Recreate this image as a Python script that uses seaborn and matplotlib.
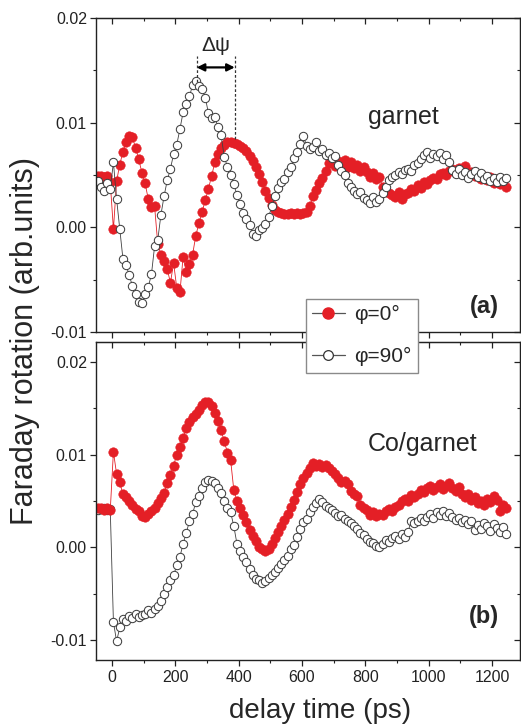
import numpy as np
import pandas as pd
import matplotlib
matplotlib.use("Agg")
import matplotlib.pyplot as plt
import seaborn as sns
from matplotlib.lines import Line2D
from matplotlib.ticker import MultipleLocator, FormatStrFormatter

# ---------------- data (values in units of 1e-3 arb. units) ----------------
delay_ps = [-45, -35, -25, -15, -5, 5, 15, 25, 35, 45,
            55, 65, 75, 85, 95, 105, 115, 125, 135, 145,
            155, 165, 175, 185, 195, 205, 215, 225, 235, 245,
            255, 265, 275, 285, 295, 305, 315, 325, 335, 345,
            355, 365, 375, 385, 395, 405, 415, 425, 435, 445,
            455, 465, 475, 485, 495, 505, 515, 525, 535, 545,
            555, 565, 575, 585, 595, 605, 615, 625, 635, 645,
            655, 665, 675, 685, 695, 705, 715, 725, 735, 745,
            755, 765, 775, 785, 795, 805, 815, 825, 835, 845,
            855, 865, 875, 885, 895, 905, 915, 925, 935, 945,
            955, 965, 975, 985, 995, 1005, 1015, 1025, 1035, 1045,
            1055, 1065, 1075, 1085, 1095, 1105, 1115, 1125, 1135, 1145,
            1155, 1165, 1175, 1185, 1195, 1205, 1215, 1225, 1235, 1245]

garnet_phi0 = [4.9, 4.9, 4.8, 4.9, 4.3, -0.2, 4.4, 6.0, 7.2, 8.2,
               8.7, 8.6, 7.6, 6.5, 5.2, 4.2, 2.7, 1.9, 2.0, -1.6,
               -2.6, -3.2, -4.0, -5.3, -3.4, -5.8, -6.2, -2.8, -4.3, -3.5,
               -2.6, -0.8, 0.4, 1.5, 2.6, 3.7, 4.9, 6.2, 7.0, 7.6,
               7.9, 8.2, 8.2, 8.1, 8.0, 7.8, 7.6, 7.3, 6.8, 6.3,
               5.8, 5.1, 4.3, 3.5, 2.8, 2.1, 1.7, 1.5, 1.4, 1.3,
               1.3, 1.4, 1.3, 1.4, 1.3, 1.4, 1.5, 2.0, 3.0, 3.6,
               4.2, 4.7, 5.4, 6.1, 6.4, 5.9, 6.3, 6.1, 6.4, 5.8,
               6.2, 5.7, 6.0, 5.4, 5.8, 5.3, 4.8, 5.2, 4.6, 4.8,
               3.9, 3.5, 3.3, 3.1, 2.9, 3.4, 2.7, 3.2, 3.3, 3.7,
               3.5, 4.0, 3.8, 4.3, 4.1, 4.5, 4.7, 4.6, 5.1, 5.2,
               5.0, 5.4, 5.6, 5.2, 5.7, 5.3, 5.9, 5.0, 5.3, 4.9,
               5.1, 4.6, 4.9, 4.5, 4.8, 4.2, 4.6, 4.1, 4.4, 3.9]

garnet_phi90 = [4.4, 3.9, 3.5, 4.2, 3.7, 6.2, 2.7, -0.2, -3.0, -3.6,
                -4.6, -5.6, -6.4, -7.1, -7.2, -6.4, -5.7, -4.5, -1.8, -1.2,
                1.2, 3.0, 4.5, 5.6, 7.0, 7.9, 9.4, 11.0, 11.8, 12.5,
                13.6, 14.0, 13.5, 13.2, 12.4, 10.9, 10.4, 10.5, 9.6, 8.8,
                6.7, 5.8, 5.0, 4.1, 3.1, 2.2, 1.4, 0.8, 0.2, -0.6,
                -0.8, -0.3, -0.1, 0.3, 1.0, 2.0, 3.0, 3.8, 4.3, 4.6,
                5.3, 5.8, 6.6, 7.2, 8.0, 8.7, 7.8, 7.5, 7.7, 8.2,
                7.3, 7.5, 6.9, 7.1, 6.6, 6.8, 6.0, 5.4, 5.0, 4.2,
                3.9, 3.5, 3.2, 3.4, 2.8, 2.6, 2.3, 2.9, 2.4, 2.7,
                3.3, 3.9, 4.5, 4.8, 5.0, 5.3, 5.1, 5.5, 5.6, 5.4,
                6.0, 6.1, 6.5, 6.9, 7.2, 6.6, 7.0, 6.8, 7.1, 6.5,
                6.9, 6.2, 5.5, 5.1, 5.6, 5.0, 5.3, 4.7, 5.1, 5.4,
                4.8, 5.2, 4.6, 4.9, 4.4, 4.7, 4.3, 4.8, 4.4, 4.7]

co_phi0 = [4.2, 4.3, 4.0, 4.2, 4.0, 10.3, 7.9, 7.0, 5.7, 5.4,
           5.0, 4.6, 4.1, 3.9, 3.4, 3.3, 3.6, 3.9, 4.3, 4.8,
           5.3, 5.9, 6.9, 7.8, 8.8, 10.0, 10.8, 11.8, 12.8, 13.5,
           14.0, 14.4, 14.8, 15.3, 15.7, 15.6, 15.2, 14.5, 13.6, 12.6,
           11.4, 10.2, 9.4, 6.2, 5.0, 4.3, 3.5, 2.7, 1.9, 1.2,
           0.7, 0.1, -0.2, -0.4, -0.2, 0.4, 1.0, 1.7, 2.3, 3.0,
           3.6, 4.4, 5.1, 6.0, 6.8, 7.5, 8.0, 8.6, 9.1, 8.8,
           9.0, 8.7, 8.9, 8.6, 8.2, 7.9, 7.5, 7.0, 7.2, 6.8,
           6.1, 5.8, 5.5, 4.6, 4.3, 4.0, 3.5, 3.8, 3.4, 3.6,
           3.5, 3.9, 4.1, 3.9, 4.4, 4.6, 5.0, 5.2, 5.0, 5.6,
           5.4, 5.8, 6.2, 6.0, 6.4, 6.6, 6.2, 6.5, 6.8, 6.3,
           6.6, 6.9, 6.4, 6.1, 6.5, 5.8, 5.4, 5.7, 5.1, 5.4,
           4.8, 5.0, 4.6, 5.2, 4.9, 5.5, 5.1, 3.9, 4.6, 4.2]

co_phi90 = [4.0, 4.1, 4.2, 4.0, 4.1, -8.0, -10.1, -8.6, -7.7, -7.9,
            -7.4, -7.6, -7.2, -7.5, -7.3, -7.1, -6.7, -7.0, -6.6, -6.3,
            -5.8, -5.0, -4.3, -3.5, -3.0, -1.9, -1.0, 0.4, 1.6, 2.8,
            3.6, 4.9, 5.5, 6.4, 7.0, 7.3, 7.2, 6.9, 6.4, 5.9,
            5.0, 4.2, 3.8, 2.3, 0.4, -0.4, -1.0, -1.6, -2.3, -3.0,
            -3.4, -3.5, -3.8, -3.6, -3.3, -3.0, -2.6, -2.2, -1.8, -1.3,
            -0.9, -0.2, 0.3, 1.1, 2.0, 2.7, 3.1, 3.8, 4.4, 4.8,
            5.2, 4.9, 4.5, 4.3, 4.0, 3.7, 3.4, 3.5, 3.1, 2.9,
            2.6, 2.3, 2.0, 1.6, 1.3, 0.9, 0.6, 0.5, 0.2, 0.1,
            0.4, 0.8, 0.6, 1.0, 1.2, 0.9, 1.4, 1.1, 1.7, 2.8,
            2.6, 2.9, 3.2, 2.8, 3.3, 3.6, 3.2, 3.8, 3.5, 3.9,
            3.4, 3.7, 3.3, 3.0, 3.2, 2.7, 3.0, 2.5, 2.8, 1.9,
            2.4, 2.0, 2.6, 2.3, 1.8, 2.5, 2.1, 1.7, 2.2, 1.5]

series_labels = ["\u03c6=0\u00b0", "\u03c6=90\u00b0"]
panel_names = ["garnet", "Co/garnet"]
panel_tags = ["(a)", "(b)"]
x_ticks = [0, 200, 400, 600, 800, 1000, 1200]
y_ticks = [-0.01, 0.00, 0.01, 0.02]

# ---------------- style ----------------
sns.set_style("ticks")
plt.rcParams["font.family"] = ["Liberation Sans", "DejaVu Sans"]
plt.rcParams["axes.unicode_minus"] = False

RED = "#e41f26"
DARK = "#404040"
SCALE = 1e-3

fig = plt.figure(figsize=(5.21, 7.27), dpi=100)
L, R = 96 / 521, 519.5 / 521
ax_a = fig.add_axes([L, 1 - 332 / 727, R - L, (332 - 18) / 727])
ax_b = fig.add_axes([L, 1 - 660 / 727, R - L, (660 - 342) / 727])


def df_of(vals):
    return pd.DataFrame({"t": delay_ps, "v": np.asarray(vals) * SCALE})


def draw(ax, red_vals, blk_vals, black_on_top):
    red_kw = dict(color=RED, lw=0.6, marker="o", markersize=6.8,
                  markerfacecolor=RED, markeredgecolor=RED, markeredgewidth=0.4)
    blk_kw = dict(color=DARK, lw=0.6, marker="o", markersize=6.0,
                  markerfacecolor="white", markeredgecolor=DARK, markeredgewidth=0.75)
    order = [(red_vals, red_kw), (blk_vals, blk_kw)]
    if not black_on_top:
        order = order[::-1]
    for vals, kw in order:
        sns.lineplot(data=df_of(vals), x="t", y="v", ax=ax, sort=False,
                     estimator=None, legend=False, **kw)


draw(ax_a, garnet_phi0, garnet_phi90, black_on_top=True)
draw(ax_b, co_phi0, co_phi90, black_on_top=False)

ax_a.set_ylim(-0.01, 0.02)
ax_b.set_ylim(-0.0121, 0.0221)

for ax in (ax_a, ax_b):
    ax.set_xlim(-50, 1287)
    ax.set_xlabel("")
    ax.set_ylabel("")
    ax.set_xticks(x_ticks)
    ax.xaxis.set_minor_locator(MultipleLocator(100))
    ax.set_yticks(y_ticks)
    ax.yaxis.set_minor_locator(MultipleLocator(0.005))
    ax.yaxis.set_major_formatter(FormatStrFormatter("%.2f"))
    for s in ax.spines.values():
        s.set_linewidth(1.0)
        s.set_color("#222222")
        s.set_visible(True)
    ax.tick_params(axis="both", which="major", direction="out", length=4.5,
                   width=0.9, labelsize=11.5, colors="#222222", pad=2)
    ax.tick_params(axis="both", which="minor", direction="out", length=2.5,
                   width=0.8, colors="#222222")
    # mirrored inward ticks on top and right
    top = ax.secondary_xaxis("top")
    top.set_xticks(x_ticks)
    top.xaxis.set_minor_locator(MultipleLocator(100))
    top.tick_params(axis="x", which="major", direction="in", length=4.5,
                    width=0.9, labeltop=False, colors="#222222")
    top.tick_params(axis="x", which="minor", direction="in", length=2.5,
                    width=0.8, colors="#222222")
    right = ax.secondary_yaxis("right")
    right.set_yticks(y_ticks)
    right.yaxis.set_minor_locator(MultipleLocator(0.005))
    right.tick_params(axis="y", which="major", direction="in", length=4.5,
                      width=0.9, labelright=False, colors="#222222")
    right.tick_params(axis="y", which="minor", direction="in", length=2.5,
                      width=0.8, colors="#222222")

ax_a.tick_params(axis="x", which="both", labelbottom=False)
ax_b.tick_params(axis="x", which="major", labelsize=11.5, pad=3)

# panel texts
ax_a.text(921, 0.0105, panel_names[0], fontsize=18, ha="center", va="center")
ax_b.text(981, 0.0111, panel_names[1], fontsize=18, ha="center", va="center")
ax_a.text(1175, -0.0076, panel_tags[0], fontsize=17, fontweight="bold",
          ha="center", va="center")
ax_b.text(1175, -0.0074, panel_tags[1], fontsize=17, fontweight="bold",
          ha="center", va="center")

# phase-shift annotation
dash_x1, dash_x2 = 268, 388
ax_a.plot([dash_x1, dash_x1], [0.0139, 0.0164], ls=(0, (2.2, 1.6)), lw=0.9, color="#333333")
ax_a.plot([dash_x2, dash_x2], [0.0084, 0.0164], ls=(0, (2.2, 1.6)), lw=0.9, color="#333333")
ax_a.annotate("", xy=(dash_x1, 0.01528), xytext=(dash_x2, 0.01528),
              arrowprops=dict(arrowstyle="<|-|>", color="black", lw=1.6,
                              mutation_scale=11, shrinkA=0, shrinkB=0))
ax_a.text((dash_x1 + dash_x2) / 2, 0.0174, "\u0394\u03c8", fontsize=15,
          ha="center", va="center")

# axis labels
ax_b.set_xlabel("delay time (ps)", fontsize=20)
ax_b.xaxis.set_label_coords(0.529, -0.160)
ax_b.xaxis.label.set_va("center")
fig.text(25 / 521, 1 - 341 / 727, "Faraday rotation (arb.units)", fontsize=22,
         rotation=90, ha="center", va="center")

# legend straddling both panels
h0 = Line2D([], [], color="#555555", lw=0.9, marker="o", markersize=8,
            markerfacecolor=RED, markeredgecolor=RED)
h1 = Line2D([], [], color="#555555", lw=0.9, marker="o", markersize=7,
            markerfacecolor="white", markeredgecolor="#333333", markeredgewidth=0.9)
leg = fig.legend(handles=[h0, h1], labels=series_labels, loc="upper left",
                 bbox_to_anchor=(306 / 521, 1 - 299 / 727), borderaxespad=0,
                 frameon=True, fancybox=False, edgecolor="#8a8a8a", framealpha=1,
                 fontsize=15, handlelength=1.55, handletextpad=0.45,
                 labelspacing=1.1, borderpad=0.3)
leg.get_frame().set_linewidth(1.0)
leg.set_zorder(10)

fig.savefig("out.png", dpi=100)
